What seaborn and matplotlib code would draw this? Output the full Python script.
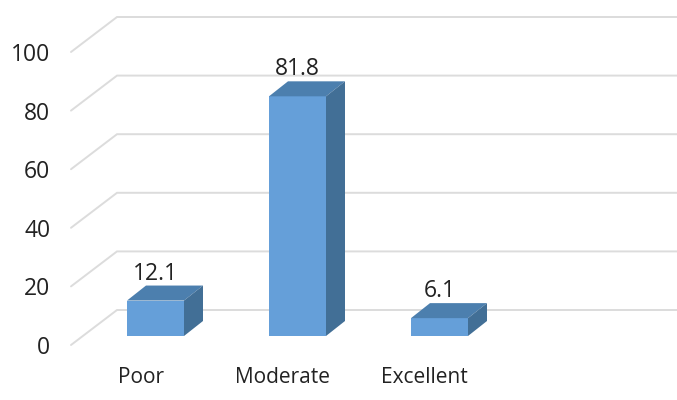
import matplotlib
matplotlib.use('Agg')
import matplotlib.pyplot as plt
from matplotlib.patches import Polygon
import pandas as pd
import seaborn as sns

categories = ['Poor', 'Moderate', 'Excellent']
values = [12.1, 81.8, 6.1]
y_ticks = [0, 20, 40, 60, 80, 100]

W, H = 677, 400
PX_PER_UNIT = 2.93      # pixels per percent
PX_PER_CAT = 142
BASE_SHIFT = 9 / PX_PER_UNIT   # bars stand a bit behind the front edge of the floor

sns.set_theme(style='white')
plt.rcParams['font.family'] = ['Open Sans', 'DejaVu Sans']

fig = plt.figure(figsize=(W / 100, H / 100), dpi=100)
ax = fig.add_axes([71 / W, (H - 345) / H, (W - 71) / W, 345 / H])

df = pd.DataFrame({'category': categories, 'value': values})
sns.barplot(data=df, x='category', y='value', width=57 / PX_PER_CAT, color='#659FD9',
            saturation=1, linewidth=0, ax=ax, zorder=3)
ax.set_xlim((71 - 155.5) / PX_PER_CAT, (W - 155.5) / PX_PER_CAT)
ax.set_ylim(-BASE_SHIFT, (336 - 0) / PX_PER_UNIT)

# back wall and side wall gridlines
wx = 46 / PX_PER_CAT
wy = 35 / PX_PER_UNIT
x0 = ax.get_xlim()[0]
x1 = ax.get_xlim()[1]
for t in y_ticks:
    y = t - BASE_SHIFT
    ax.plot([x0, x0 + wx, x1], [y, y + wy, y + wy], color='#DCDCDC', lw=1.4,
            zorder=1, clip_on=False, solid_joinstyle='miter')

# 3d sides of the bars
dx = 19 / PX_PER_CAT
dy = 15 / PX_PER_UNIT
hw = 57 / PX_PER_CAT / 2
for i, v in enumerate(values):
    ax.add_patch(Polygon([(i - hw, v), (i + hw, v), (i + hw + dx, v + dy), (i - hw + dx, v + dy)],
                         closed=True, fc='#4C7FAE', ec='none', zorder=3))
    ax.add_patch(Polygon([(i + hw, 0), (i + hw + dx, dy), (i + hw + dx, v + dy), (i + hw, v)],
                         closed=True, fc='#426F96', ec='none', zorder=3))
    ax.text(i, v + dy, str(v), ha='center', va='bottom', fontsize=16.5,
            color='#222222', zorder=4)

ax.set_yticks([t - BASE_SHIFT for t in y_ticks], labels=[str(t) for t in y_ticks])
ax.set_xticks([i - 15 / PX_PER_CAT for i in range(len(categories))], labels=categories)
ax.tick_params(axis='y', length=0, pad=15, labelsize=16.5, labelcolor='#222222')
ax.tick_params(axis='x', length=0, pad=16, labelsize=15, labelcolor='#222222')
ax.set_xlabel('')
ax.set_ylabel('')
sns.despine(ax=ax, left=True, bottom=True, right=True, top=True)
ax.patch.set_alpha(0)

fig.savefig('out.png', dpi=100)
